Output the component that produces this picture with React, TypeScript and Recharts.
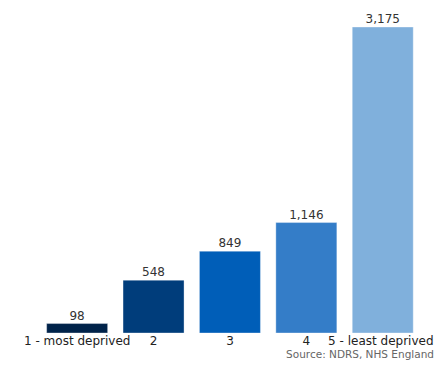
import React from "react";
import { BarChart, Bar, XAxis, YAxis, Cell, LabelList } from "recharts";

const categories = ["1 - most deprived", "2", "3", "4", "5 - least deprived"];
const values = [98, 548, 849, 1146, 3175];
const colors = ["#00234a", "#003d7b", "#005eb8", "#347dc8", "#80b0dc"];
const sourceText = "Source: NDRS, NHS England";

const data = categories.map((c, i) => ({ name: c, value: values[i] }));

const FONT = "'DejaVu Sans', Verdana, sans-serif";

const Tick = (props: any) => {
  const { x, y, payload, index } = props;
  const dx = index === categories.length - 1 ? -2 : 0;
  return (
    <text x={x + dx} y={y + 11.5} textAnchor="middle" fontFamily={FONT} fontSize={12} fill="#222">
      {payload.value}
    </text>
  );
};

export default function App() {
  return (
    <div style={{ position: "absolute", left: 0, top: 0, width: 436, height: 365, background: "#fff" }}>
      <BarChart
        width={436}
        height={365}
        data={data}
        margin={{ top: 27, right: 15, left: 39, bottom: 0 }}
        barCategoryGap="10%"
      >
        <XAxis
          dataKey="name"
          height={32}
          axisLine={false}
          tickLine={false}
          tickSize={0}
          tickMargin={0}
          interval={0}
          tick={<Tick />}
        />
        <YAxis hide domain={[0, 3175]} />
        <Bar dataKey="value" isAnimationActive={false} stroke="rgba(255,255,255,0.35)" strokeWidth={1}>
          {data.map((d, i) => (
            <Cell key={d.name} fill={colors[i]} />
          ))}
          <LabelList
            dataKey="value"
            position="top"
            offset={4}
            formatter={(v: any) => Number(v).toLocaleString("en-GB")}
            style={{ fontFamily: FONT, fontSize: 12, fill: "#333" }}
          />
        </Bar>
      </BarChart>
      <div
        style={{
          position: "absolute",
          right: 2,
          top: 348,
          fontFamily: FONT,
          fontSize: 10.5,
          color: "#666",
          whiteSpace: "nowrap",
          lineHeight: "12px",
        }}
      >
        {sourceText}
      </div>
    </div>
  );
}
